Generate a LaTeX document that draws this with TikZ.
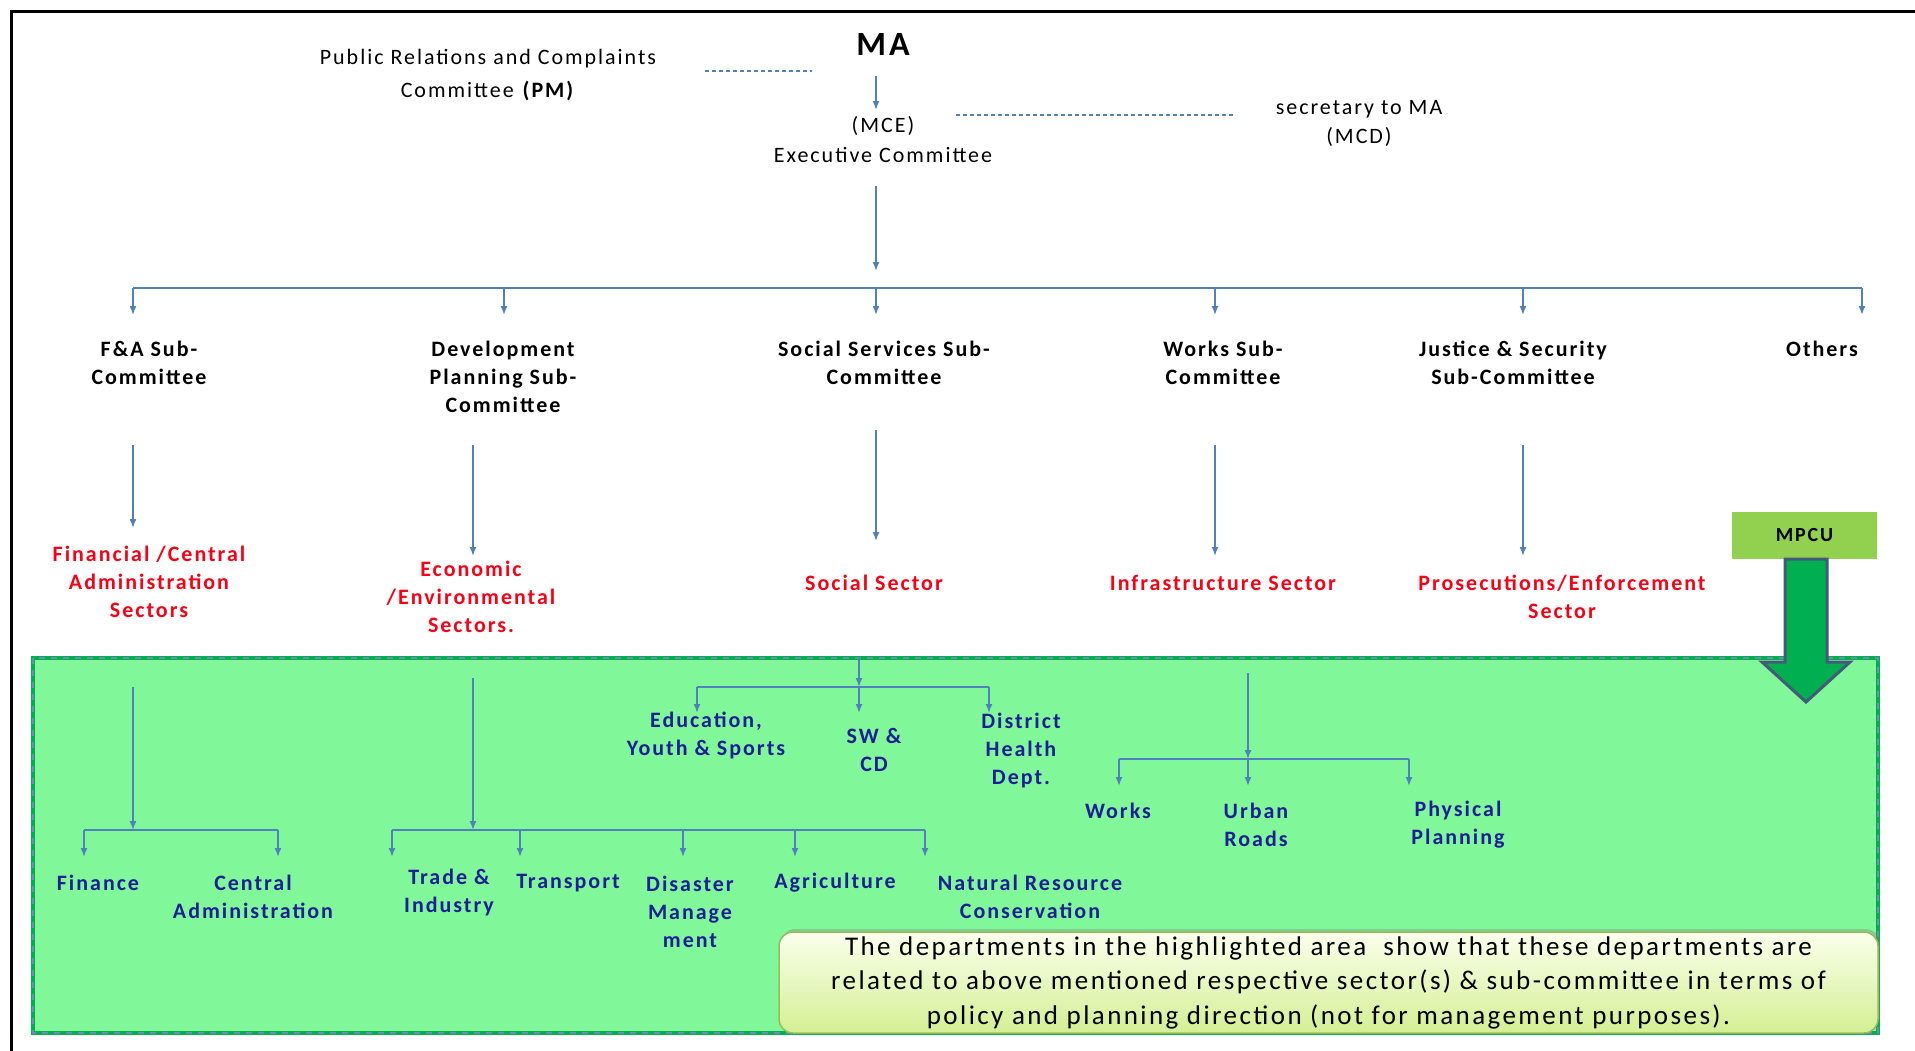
\documentclass[tikz,border=0pt]{standalone}
\usepackage{fontspec}
\setmainfont{Carlito}[LetterSpace=9]
\usetikzlibrary{arrows.meta,shadows}
\definecolor{lineblue}{RGB}{79,129,189}
\definecolor{deptblue}{RGB}{30,30,150}
\definecolor{secred}{RGB}{250,0,20}
\definecolor{regiongreen}{RGB}{128,248,154}
\definecolor{bordergreen}{RGB}{0,176,80}
\definecolor{borderdash}{RGB}{110,140,175}
\definecolor{mpcugreen}{RGB}{146,208,80}
\definecolor{arrowgreen}{RGB}{0,176,80}
\definecolor{arrowedge}{RGB}{68,90,120}
\definecolor{notetop}{RGB}{250,255,236}
\definecolor{notebot}{RGB}{212,239,148}
\definecolor{noteedge}{RGB}{155,187,89}
\definecolor{pagenum}{RGB}{142,169,219}
\begin{document}
\begin{tikzpicture}[x=1pt,y=-1pt,
  conn/.style={draw=lineblue, line width=1.6pt},
  arr/.style={conn, -{Latex[length=9pt,width=7pt]}},
  dashconn/.style={draw=lineblue, line width=1.3pt, dash pattern=on 4pt off 3pt},
  toplbl/.style={align=center, inner sep=0pt, font=\fontsize{22}{30}\selectfont},
  sublbl/.style={align=center, inner sep=0pt, font=\bfseries\fontsize{22}{28}\selectfont},
  seclbl/.style={sublbl, text=secred},
  deptlbl/.style={sublbl, text=deptblue},
]
\useasboundingbox (0,0) rectangle (1915,1050);
\fill[white] (0,0) rectangle (1915,1050);
\draw[line width=3pt] (11,1070) -- (11,11) -- (1930,11);

% ---------- top ----------
\node[inner sep=0pt, font=\bfseries\fontsize{34}{34}\selectfont] (ma) at (883,44) {MA};
\node[toplbl, font=\fontsize{22}{33}\selectfont] (pm) at (488,75) {Public Relations and Complaints\\Committee \textbf{(PM)}};
\node[toplbl] (mce) at (883,140) {(MCE)\\Executive Committee};
\node[toplbl, font=\fontsize{22}{29}\selectfont] (mcd) at (1359,123) {secretary to MA\\(MCD)};

\coordinate (pmR) at (705,71);  \coordinate (maL) at (812,71);
\draw[dashconn] (pmR) -- (maL);
\coordinate (mceR) at (956,115); \coordinate (mcdL) at (1234,115);
\draw[dashconn] (mceR) -- (mcdL);
\coordinate (maS) at (876,76); \coordinate (mceN) at (876,110);
\draw[arr] (maS) -- (mceN);
\coordinate (mceS) at (876,186); \coordinate (busC) at (876,271);
\draw[arr] (mceS) -- (busC);

% ---------- bus ----------
\coordinate (busL) at (133,288); \coordinate (busR) at (1862,288);
\draw[conn] (busL) -- (busR);
\foreach \x/\n in {133/a,504/b,876/c,1215/d,1523/e,1862/f}{
  \coordinate (bt\n) at (\x,288); \coordinate (bb\n) at (\x,315);
  \draw[arr] (bt\n) -- (bb\n);
}

% ---------- sub-committees ----------
\node[sublbl] (fa)  at (149,362.5) {F\&A Sub-\\Committee};
\node[sublbl] (dev) at (503,377) {Development\\Planning Sub-\\Committee};
\node[sublbl] (soc) at (884,362.5) {Social Services Sub-\\Committee};
\node[sublbl] (wrk) at (1223,362.5) {Works Sub-\\Committee};
\node[sublbl] (jus) at (1513,362.5) {Justice \& Security\\Sub-Committee};
\node[sublbl] (oth) at (1822,349) {Others};

% ---------- sectors ----------
\node[seclbl] (fasec)  at (149,582) {Financial /Central\\Administration\\Sectors};
\node[seclbl] (devsec) at (471,596.5) {Economic\\/Environmental\\Sectors.};
\node[seclbl] (socsec) at (874,583) {Social Sector};
\node[seclbl] (wrksec) at (1223,583) {Infrastructure Sector};
\node[seclbl] (jussec) at (1562,597) {Prosecutions/Enforcement\\Sector};

\foreach \x/\a/\b/\n in {133/445/528/a,473/445/556/b,876/430/541/c,1215/445/556/d,1523/445/556/e}{
  \coordinate (st\n) at (\x,\a); \coordinate (sb\n) at (\x,\b);
  \draw[arr] (st\n) -- (sb\n);
}

% ---------- highlighted region ----------
\fill[regiongreen] (33,658) rectangle (1878,1033);
\draw[bordergreen, line width=4pt] (33,658) rectangle (1878,1033);
\draw[borderdash, line width=1.2pt, dash pattern=on 6pt off 6pt] (33,658) rectangle (1878,1033);

% MPCU
\node[fill=mpcugreen, minimum width=145pt, minimum height=47pt, inner sep=0pt,
      font=\bfseries\fontsize{20}{20}\selectfont] (mpcu) at (1804.5,535.5) {MPCU};
\draw[fill=arrowgreen, draw=arrowedge, line width=3pt, line join=miter]
  (1785,559) -- (1827,559) -- (1827,662) -- (1850,662) -- (1806,702) -- (1762,662) -- (1785,662) -- cycle;

% F&A branch
\coordinate (fa0) at (133,687); \coordinate (fa1) at (133,830);
\draw[arr] (fa0) -- (fa1);
\coordinate (faL) at (84,830); \coordinate (faR) at (278,830);
\draw[conn] (faL) -- (faR);
\coordinate (fin) at (84,857); \coordinate (cen) at (278,857);
\draw[arr] (faL) -- (fin);
\draw[arr] (faR) -- (cen);
\node[deptlbl] (finance) at (98,883) {Finance};
\node[deptlbl] (central) at (253,897) {Central\\Administration};

% Development branch
\coordinate (dv0) at (473,678); \coordinate (dv1) at (473,830);
\draw[arr] (dv0) -- (dv1);
\coordinate (dvL) at (392,830); \coordinate (dvR) at (925,830);
\draw[conn] (dvL) -- (dvR);
\foreach \x/\n in {392/p,520/q,683/r,795/s,925/t}{
  \coordinate (dt\n) at (\x,830); \coordinate (db\n) at (\x,857);
  \draw[arr] (dt\n) -- (db\n);
}
\node[deptlbl] (trade) at (449,892.5) {Trade \&\\Industry};
\node[deptlbl] (transport) at (568,883) {Transport};
\node[deptlbl] (disaster) at (690,911.5) {Disaster\\Manage\\ment};
\node[deptlbl] (agri) at (835,883) {Agriculture};
\node[deptlbl] (natres) at (1030,897) {Natural Resource\\Conservation};

% Social branch
\coordinate (sc0) at (859,658); \coordinate (sc1) at (859,687);
\draw[arr] (sc0) -- (sc1);
\coordinate (scL) at (697,687); \coordinate (scR) at (989,687);
\draw[conn] (scL) -- (scR);
\foreach \x/\n in {697/u,859/v,989/w}{
  \coordinate (ct\n) at (\x,687); \coordinate (cb\n) at (\x,713);
  \draw[arr] (ct\n) -- (cb\n);
}
\node[deptlbl] (edu) at (706,735.5) {Education,\\Youth \& Sports};
\node[deptlbl] (swcd) at (874,749.5) {SW \&\\CD};
\node[deptlbl] (dhd) at (1021,750.5) {District\\Health\\Dept.};

% Works branch
\coordinate (wk0) at (1248,673); \coordinate (wk1) at (1248,759);
\draw[arr] (wk0) -- (wk1);
\coordinate (wkL) at (1119,759); \coordinate (wkR) at (1409,759);
\draw[conn] (wkL) -- (wkR);
\foreach \x/\n in {1119/i,1248/j,1409/k}{
  \coordinate (wt\n) at (\x,759); \coordinate (wb\n) at (\x,786);
  \draw[arr] (wt\n) -- (wb\n);
}
\node[deptlbl] (works) at (1118,811) {Works};
\node[deptlbl] (urban) at (1256,825) {Urban\\Roads};
\node[deptlbl] (phys) at (1458,825) {Physical\\Planning};

% Note box
\node[draw=noteedge, line width=1.5pt, rounded corners=14pt, top color=notetop, bottom color=notebot,
      drop shadow={shadow xshift=2pt, shadow yshift=3pt, opacity=0.35},
      minimum width=1099pt, minimum height=101pt, inner sep=0pt, align=center,
      font=\fontsize{27}{34.5}\selectfont] (note) at (1328.5,982.5)
  {The departments in the highlighted area \ show that these departments are\\
   related to above mentioned respective sector(s) \& sub-committee in terms of\\
   policy and planning direction (not for management purposes).};

\node[text=pagenum, inner sep=0pt, font=\fontsize{24}{24}\selectfont] (pg) at (1823,1060) {10};
\end{tikzpicture}
\end{document}
